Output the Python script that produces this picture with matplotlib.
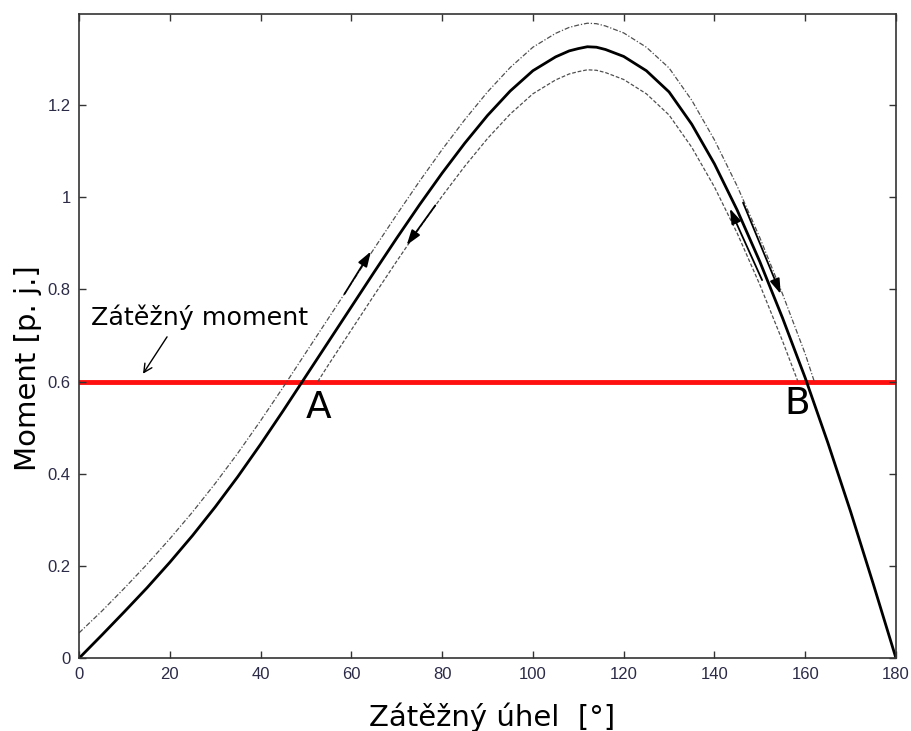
import matplotlib
matplotlib.use("Agg")
import matplotlib.pyplot as plt

# load angle [deg] and torque [p.u.]
angle = [0, 5, 10, 15, 20, 25, 30, 35, 40, 45, 50, 55, 60, 65, 70, 75, 80, 85, 90,
         95, 100, 105, 108, 110, 112, 114, 116, 120, 125, 130, 135, 140, 145, 150,
         155, 160, 165, 170, 175, 180]
torque = [0.000, 0.050, 0.101, 0.153, 0.208, 0.266, 0.328, 0.394, 0.464, 0.537,
          0.612, 0.687, 0.762, 0.837, 0.911, 0.983, 1.052, 1.117, 1.177, 1.230,
          1.274, 1.304, 1.317, 1.322, 1.326, 1.325, 1.320, 1.305, 1.274, 1.228,
          1.158, 1.072, 0.972, 0.860, 0.738, 0.608, 0.467, 0.318, 0.161, 0.000]

upper_angle = [0, 5, 10, 15, 20, 25, 30, 35, 40, 45, 50, 55, 60, 65, 70, 75, 80, 85,
               90, 95, 100, 105, 108, 110, 112, 114, 116, 120, 125, 130, 135, 140,
               145, 150, 155, 160, 162.0]
upper_torque = [0.055, 0.102, 0.152, 0.204, 0.259, 0.317, 0.379, 0.445, 0.515, 0.588,
                0.663, 0.738, 0.813, 0.888, 0.962, 1.034, 1.103, 1.168, 1.228, 1.281,
                1.325, 1.355, 1.368, 1.373, 1.377, 1.376, 1.371, 1.356, 1.325, 1.280,
                1.210, 1.124, 1.024, 0.912, 0.790, 0.660, 0.600]

lower_angle = [52.6, 55, 60, 65, 70, 75, 80, 85, 90, 95, 100, 105, 108, 110, 112, 114,
               116, 120, 125, 130, 135, 140, 145, 150, 155, 158.4]
lower_torque = [0.600, 0.637, 0.712, 0.787, 0.861, 0.933, 1.002, 1.067, 1.127, 1.180,
                1.224, 1.254, 1.267, 1.272, 1.276, 1.275, 1.270, 1.255, 1.224, 1.178,
                1.108, 1.022, 0.922, 0.810, 0.688, 0.600]

load_torque = 0.6
x_ticks = [0, 20, 40, 60, 80, 100, 120, 140, 160, 180]
y_ticks = [0, 0.2, 0.4, 0.6, 0.8, 1.0, 1.2]
y_tick_labels = ["0", "0.2", "0.4", "0.6", "0.8", "1", "1.2"]

# direction arrows along the curves: (tail, tip)
arrows = [
    ((58.5, 0.790), (64.3, 0.882)),
    ((78.5, 0.982), (72.2, 0.896)),
    ((150.5, 0.820), (143.4, 0.975)),
    ((146.3, 0.988), (154.6, 0.790)),
]

fig = plt.figure(figsize=(9.12, 7.31), dpi=100)
ax = fig.add_axes([79 / 912, 1 - 658.3 / 731, (896 - 79) / 912, (658.3 - 14) / 731])

ax.plot(upper_angle, upper_torque, color="#505050", lw=0.9, linestyle=(0, (4, 1.5, 1, 1.5)))
ax.plot(lower_angle, lower_torque, color="#505050", lw=0.9, linestyle=(0, (3, 1.5)))
ax.plot(angle, torque, color="black", lw=2.0)
ax.plot([0, 180], [load_torque, load_torque], color="#ff1010", lw=3.5, zorder=1)

for tail, tip in arrows:
    ax.annotate("", xy=tip, xytext=tail,
                arrowprops=dict(arrowstyle="-|>,head_length=0.9,head_width=0.3",
                                color="black", lw=1.3, shrinkA=0, shrinkB=0))

ax.annotate("", xy=(14.1, 0.617), xytext=(19.4, 0.697),
            arrowprops=dict(arrowstyle="->,head_length=0.6,head_width=0.3",
                            color="black", lw=1.0, shrinkA=0, shrinkB=0))
ax.text(2.6, 0.723, "Zátěžný moment", fontsize=18.3, ha="left", va="baseline")
ax.text(52.8, 0.543, "A", fontsize=27, ha="center", va="center")
ax.text(158.2, 0.552, "B", fontsize=27, ha="center", va="center")

ax.set_xlim(0, 180)
ax.set_ylim(0, 1.397)
ax.set_xticks(x_ticks)
ax.set_yticks(y_ticks)
ax.set_yticklabels(y_tick_labels)
ax.tick_params(direction="in", length=5, width=1.0, top=True, right=True,
               labelsize=12, labelcolor="#2b2b48", color="#333333", pad=6)
for label in ax.get_xticklabels() + ax.get_yticklabels():
    label.set_family("Liberation Sans")
for spine in ax.spines.values():
    spine.set_color("#333333")
    spine.set_linewidth(1.2)

fig.text(492 / 912, 1 - 726 / 731, "Zátěžný úhel  [°]", fontsize=21, ha="center",
         va="baseline")
fig.text(28 / 912, 1 - 368 / 731, "Moment [p. j.]", fontsize=21, ha="center", va="center",
         rotation=90)

fig.savefig("out.png", dpi=100)
